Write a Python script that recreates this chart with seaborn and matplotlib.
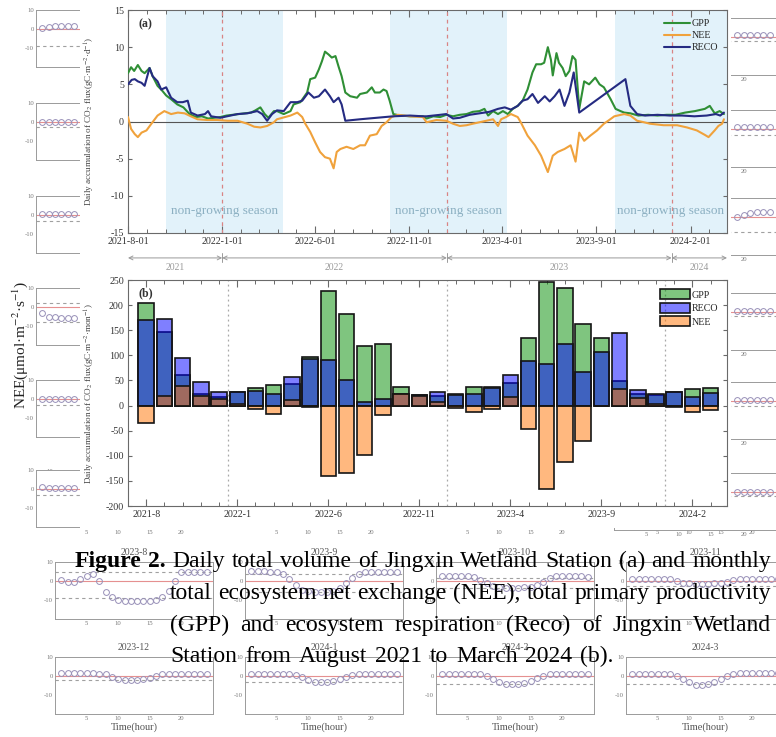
import numpy as np
import pandas as pd
import matplotlib
matplotlib.use("Agg")
import matplotlib.pyplot as plt
import matplotlib.dates as mdates
from matplotlib.patches import Rectangle, Patch
from matplotlib.ticker import FixedLocator
import seaborn as sns

# ---------------- data: panel (a) daily accumulation (day offset from start) ----------------
start_date = "2021-08-01"
end_date = "2024-03-31"

gpp_day = [0, 5, 10, 16, 22, 27, 35, 40, 48, 55, 62, 70, 80, 90, 100, 110, 120, 130, 140, 150,
           160, 170, 180, 190, 200, 207, 215, 222, 228, 237,
           242, 253, 264, 269, 280, 291, 296, 304, 310, 315, 320, 326, 331, 337, 342, 347, 353, 361,
           372, 377, 388, 396, 401, 409, 415, 420, 425, 431, 442, 458, 479,
           485, 496, 507, 517, 528, 539, 550, 560, 571, 579, 585, 593, 601, 609, 617, 625, 633, 641,
           649, 657, 663, 671, 676, 682, 687, 690, 696, 700, 706, 711, 717, 722, 727, 733, 741, 749,
           759, 766, 773, 784, 792, 800, 806, 816, 829, 845, 860, 875, 889, 905, 921, 937, 945, 953,
           961, 968]
gpp_val = [6.5, 7.3, 6.8, 7.6, 6.8, 6.5, 7.2, 6.1, 4.8, 4.2, 3.5, 3.0, 2.3, 1.9, 1.0, 0.6, 0.7, 0.4, 0.5, 0.6,
           0.8, 0.9, 1.0, 1.1, 1.2, 1.5, 1.9, 1.0, 0.5, 1.4,
           1.4, 1.0, 1.4, 2.3, 2.6, 3.9, 5.7, 5.9, 7.0, 8.1, 9.4, 9.0, 8.6, 8.8, 7.4, 6.1, 3.9, 3.4,
           3.2, 3.7, 3.9, 4.6, 3.9, 3.9, 4.3, 4.1, 2.8, 1.0, 0.8, 0.7, 0.7,
           0.4, 0.7, 0.6, 0.9, 0.7, 0.9, 1.0, 1.3, 1.4, 1.7, 0.8, 1.4, 1.0, 1.4, 1.0, 1.7, 2.1, 2.8,
           4.3, 6.6, 7.7, 7.7, 7.9, 10.0, 8.3, 6.2, 9.2, 7.9, 7.2, 6.1, 6.8, 8.8, 8.3, 1.7, 5.4, 5.0,
           5.9, 5.0, 4.6, 3.0, 1.7, 1.4, 1.2, 1.1, 0.8, 0.9, 0.8, 0.9, 0.9, 1.2, 1.4, 1.7, 2.1, 1.1,
           1.4, 1.0]

reco_day = [0, 6, 11, 16, 22, 27, 35, 40, 48, 54, 62, 70, 80, 89, 97, 102, 113, 125, 130, 135,
            150, 161, 178, 194, 210, 218, 226, 234,
            242, 253, 264, 275, 283, 293, 302, 310, 320, 328, 334, 342, 347, 353, 377, 404, 431, 458, 479,
            485, 507, 517, 528, 539, 555, 571, 587, 601, 612, 622, 633, 641, 649, 657, 666, 677, 685,
            693, 701, 709, 717, 724, 733, 808, 816, 827, 840, 860, 880, 900, 920, 940, 955, 962, 968]
reco_val = [5.0, 5.6, 5.7, 5.4, 5.2, 4.8, 7.2, 6.1, 5.4, 4.3, 4.6, 3.2, 2.6, 2.6, 2.8, 1.2, 0.8, 1.0, 1.4, 0.7,
            0.5, 0.7, 1.0, 1.1, 1.4, 1.0, 0.1, 1.0,
            1.5, 1.4, 2.6, 2.6, 2.8, 3.9, 3.2, 3.4, 4.3, 3.4, 2.6, 3.2, 2.3, 0.1, 0.3, 0.5, 0.7, 0.8, 0.7,
            0.7, 0.9, 1.0, 0.4, 0.5, 0.9, 1.1, 1.3, 1.7, 1.9, 1.6, 2.1, 2.8, 3.0, 3.7, 2.5, 3.4, 2.7,
            3.4, 4.3, 2.1, 3.9, 6.6, 1.2, 5.7, 2.1, 1.0, 0.8, 0.9, 0.8, 0.8, 0.7, 0.8, 1.0, 0.8, 1.2]

nee_day = [0, 5, 11, 16, 22, 30, 38, 48, 59, 70, 81, 92, 102, 113, 129, 145, 162, 178, 194, 205,
           215, 226, 237,
           242, 264, 275, 283, 288, 296, 304, 312, 320, 328, 334, 339, 345, 355, 366, 377, 385, 393,
           404, 412, 420, 428, 439, 458, 479,
           485, 501, 517, 528, 539, 550, 560, 571, 582, 593, 601, 606, 614, 622, 633, 638, 649, 661,
           671, 682, 690, 698, 709, 719, 727, 733, 741, 751, 762, 773, 780, 790, 806, 816, 827, 838,
           848, 870, 892, 908, 924, 937, 943, 953, 959, 965, 968]
nee_val = [0.6, -1.0, -1.7, -2.1, -1.5, -1.2, -0.3, 0.8, 1.4, 1.0, 1.2, 1.1, 0.7, 0.3, 0.2, 0.2, 0.1, 0.1, -0.3, -0.7,
           -0.8, -0.6, -0.1,
           0.3, 0.8, 1.2, 0.6, -0.3, -1.4, -2.8, -4.1, -4.8, -5.0, -6.3, -4.1, -3.7, -3.4, -3.7, -3.2, -3.2, -1.9,
           -1.7, -0.6, -0.1, 0.6, 0.9, 0.7, 0.6,
           -0.1, 0.2, 0.1, -0.3, -0.6, -0.5, -0.3, -0.1, 0.1, 0.3, -0.6, 0.3, 0.6, 1.0, 0.6, -0.1, -1.9, -3.2,
           -4.6, -6.8, -4.6, -4.1, -3.7, -3.2, -5.4, -1.5, -2.6, -1.9, -1.2, -0.3, 0.1, 0.7, 1.0, 0.8, 0.1, -0.1,
           -0.3, -0.5, -0.5, -0.8, -1.2, -1.8, -2.1, -1.2, -0.6, -0.3, 0.3]

season_start = ["2021-10-01", "2022-10-01", "2023-10-01"]
season_end = ["2022-04-10", "2023-04-09", "2024-03-31"]
year_marks = ["2022-01-01", "2023-01-01", "2024-01-01"]
a_tick_dates = ["2021-08-01", "2022-01-01", "2022-06-01", "2022-11-01", "2023-04-01", "2023-09-01", "2024-02-01"]
a_tick_labels = ["2021-8-01", "2022-1-01", "2022-6-01", "2022-11-01", "2023-4-01", "2023-9-01", "2024-2-01"]
year_names = ["2021", "2022", "2023", "2024"]

# ---------------- data: panel (b) monthly totals ----------------
months = ["2021-8", "2021-9", "2021-10", "2021-11", "2021-12",
          "2022-1", "2022-2", "2022-3", "2022-4", "2022-5", "2022-6", "2022-7", "2022-8", "2022-9",
          "2022-10", "2022-11", "2022-12",
          "2023-1", "2023-2", "2023-3", "2023-4", "2023-5", "2023-6", "2023-7", "2023-8", "2023-9",
          "2023-10", "2023-11", "2023-12",
          "2024-1", "2024-2", "2024-3"]
bar_gpp = [204, 147, 60, 24, 17, 26, 35, 40, 43, 97, 229, 182, 118, 122, 37, 21, 20,
           24, 36, 36, 44, 135, 247, 234, 163, 134, 49, 24, 22, 27, 32, 35]
bar_reco = [170, 172, 94, 47, 27, 27, 28, 24, 56, 93, 91, 50, 8, 14, 23, 22, 26,
            22, 24, 35, 60, 89, 83, 122, 67, 107, 144, 31, 23, 26, 18, 25]
bar_nee = [-34, 19, 38, 20, 14, 3, -7, -16, 12, -3, -140, -134, -99, -18, 23, 19, 7,
           -5, -12, -6, 17, -47, -166, -113, -70, 0, 32, 15, 4, -2, -12, -9]

# ---------------- data: background diurnal NEE panels ----------------
hours = list(range(1, 25))
bg_titles = ["2023-8", "2023-9", "2023-10", "2023-11", "2023-12", "2024-1", "2024-2", "2024-3"]
bg_vals = [
    [0.5, -0.5, -0.3, 1.0, 2.7, 3.6, 0.0, -6.0, -8.5, -9.8, -10.5, -10.5, -10.5, -10.5, -10.3, -9.8, -8.5, -5.5, 0.2, 4.5, 4.5, 4.5, 4.5, 4.5],
    [5.5, 5.5, 5.5, 5.0, 5.0, 3.5, 1.0, -2.0, -4.5, -5.5, -6.0, -6.0, -6.0, -5.5, -3.5, -1.0, 1.5, 3.5, 4.5, 5.0, 5.0, 5.0, 5.0, 5.0],
    [2.7, 2.7, 2.7, 2.7, 2.5, 2.0, 0.5, -1.0, -2.5, -3.0, -3.5, -3.5, -3.5, -3.2, -3.0, -2.0, -0.5, 1.5, 2.5, 2.7, 2.7, 2.7, 2.7, 2.0],
    [1.0, 1.0, 1.0, 1.0, 1.0, 1.0, 0.8, 0.0, -0.8, -1.3, -1.5, -1.5, -1.5, -1.3, -1.0, -0.5, 0.5, 1.0, 1.0, 1.0, 1.2, 1.2, 1.2, 1.2],
    [1.5, 1.5, 1.5, 1.5, 1.5, 1.5, 1.2, 0.8, -0.5, -1.5, -2.0, -2.0, -2.0, -1.5, -1.0, 0.0, 0.8, 1.0, 1.2, 1.2, 1.2, 1.2, 1.2, 1.2],
    [1.0, 1.0, 1.0, 1.0, 1.0, 1.0, 1.0, 0.5, -0.5, -2.0, -3.0, -3.2, -3.0, -2.5, -1.5, -0.5, 0.5, 1.0, 1.0, 1.0, 1.0, 1.0, 1.0, 1.0],
    [1.0, 1.0, 1.0, 1.0, 1.0, 1.0, 0.8, 0.0, -1.5, -3.0, -4.0, -4.2, -4.0, -3.5, -2.5, -1.0, 0.0, 1.0, 1.2, 1.2, 1.2, 1.2, 1.2, 1.2],
    [1.0, 1.0, 1.0, 1.0, 1.0, 1.0, 0.8, 0.0, -1.5, -3.0, -4.5, -4.5, -4.3, -3.0, -1.5, 0.0, 1.0, 1.5, 1.5, 1.5, 1.5, 1.5, 1.5, 1.5],
]
bg_dash = [[4.5, -9.0], [3.5, -6.0], [1.5, -3.5], [-2.5], [-2.0], [-3.0], [-4.0], [-4.0]]
left_hours = [1, 2, 3, 4, 5, 6]
left_vals = [[0.5, 1.0, 1.5, 1.5, 1.5, 1.5], [0.0, 0.0, 0.0, 0.0, 0.0, 0.0], [0.3, 0.3, 0.3, 0.3, 0.3, 0.3],
             [-3.0, -5.0, -5.5, -6.0, -6.0, -6.0], [0.0, 0.0, 0.0, 0.0, 0.0, 0.0], [1.0, 0.5, 0.5, 0.5, 0.5, 0.5]]
left_dash = [[-9.0], [-2.5], [-3.0], [2.0, -8.0], [-3.0], [-3.0]]
right_hours = [19, 20, 21, 22, 23, 24]
right_vals = [[1.0, 1.0, 1.0, 1.0, 1.0, 1.0], [1.0, 1.0, 1.0, 1.0, 1.0, 1.0], [0.0, 1.0, 2.0, 2.5, 2.5, 2.5],
              [0.5, 0.5, 0.5, 0.5, 0.5, 0.5], [0.5, 0.5, 0.5, 0.5, 0.5, 0.5], [0.0, 0.0, 0.0, 0.0, 0.0, 0.0]]
right_dash = [[-2.0], [-3.0], [-8.0], [-2.0], [-2.5], [-2.0]]

caption_lines = ["Figure 2. Daily total volume of Jingxin Wetland Station (a) and monthly",
                 "total ecosystem net exchange (NEE), total primary productivity",
                 "(GPP) and ecosystem respiration (Reco) of Jingxin Wetland",
                 "Station from August 2021 to March 2024 (b)."]

# ---------------- style ----------------
sns.set_theme(style="white")
plt.rcParams["font.family"] = ["Liberation Serif", "DejaVu Serif"]
plt.rcParams["mathtext.fontset"] = "stix"
plt.rcParams["axes.unicode_minus"] = False

W, H = 776, 737
fig = plt.figure(figsize=(W / 100, H / 100), dpi=100)
fig.patch.set_facecolor("white")


def pax(x0, y0, x1, y1, z=1):
    return fig.add_axes([x0 / W, 1 - y1 / H, (x1 - x0) / W, (y1 - y0) / H], zorder=z)


# ---------------- background small panels ----------------
def small_panel(x0, y0, w, hrs, vals, dashed, title=None, xlabel=None, frame=True, xlabels=True):
    ax = pax(x0, y0, x0 + w, y0 + 57, z=0)
    ax.set_facecolor("white")
    ax.set_xlim(0, 25)
    ax.set_ylim(-20, 10)
    if hrs is not None:
        ax.axhline(0, color="#e59090", lw=0.8)
        for d in dashed:
            ax.axhline(d, color="#a0a0a0", lw=0.8, ls=(0, (3, 3)))
        ax.plot(hrs, vals, "o", mfc="none", mec="#9890b8", ms=4.2, mew=0.7)
    ax.set_xticks([5, 10, 15, 20])
    ax.set_yticks([-10, 0, 10])
    ax.tick_params(labelsize=4.8, colors="#777777", direction="in", length=2 if frame else 0, pad=1.5)
    if not xlabels:
        ax.tick_params(axis="x", labelbottom=False)
    for sp in ax.spines.values():
        sp.set_color("#9a9a9a")
        sp.set_linewidth(0.7)
        sp.set_visible(frame)
    if title:
        ax.set_title(title, fontsize=7, color="#555555", pad=5)
    if xlabel:
        ax.set_xlabel(xlabel, fontsize=7.5, color="#555555", labelpad=1)
    return ax


cols_x = [55, 245, 436, 626]
for i in range(4):
    small_panel(cols_x[i], 471, 158, None, None, [], frame=False)
    small_panel(cols_x[i], 562, 158, hours, bg_vals[i], bg_dash[i], title=bg_titles[i])
    small_panel(cols_x[i], 657, 158, hours, bg_vals[4 + i], bg_dash[4 + i], title=bg_titles[4 + i],
                xlabel="Time(hour)")
left_tops = [10, 103, 196, 288, 380, 470]
right_tops = [18, 110, 198, 293, 382, 473]
for i in range(6):
    small_panel(36, left_tops[i], 158, left_hours, left_vals[i], left_dash[i], xlabels=False)
    small_panel(614, right_tops[i], 162, right_hours, right_vals[i], right_dash[i])

fig.text(20 / W, 1 - 345 / H, "NEE(μmol·m$^{-2}$·s$^{-1}$)", rotation=90, fontsize=11,
         ha="center", va="center", color="#222222", zorder=0.5)

# white sheet of the main figure
fig.add_artist(Rectangle((80 / W, 1 - 528 / H), (731 - 80) / W, 528 / H, transform=fig.transFigure,
                         facecolor="white", edgecolor="none", zorder=1))

# ---------------- panel (a) ----------------
axa = pax(128, 10, 727, 233, z=2)
t0 = pd.Timestamp(start_date)
t1 = pd.Timestamp(end_date)
for s, e in zip(season_start, season_end):
    axa.axvspan(pd.Timestamp(s), pd.Timestamp(e), color="#e2f2fa", lw=0, zorder=0)
for ym in year_marks:
    axa.axvline(pd.Timestamp(ym), color="#d98484", lw=0.9, ls=(0, (3, 3)), zorder=1)
axa.axhline(0, color="#555555", lw=0.8, zorder=1.5)

series = [(gpp_day, gpp_val, "#2f8f35", "GPP"),
          (nee_day, nee_val, "#f0a23c", "NEE"),
          (reco_day, reco_val, "#252b82", "RECO")]
for days, vals, col, lab in series:
    d = pd.DataFrame({"date": t0 + pd.to_timedelta(days, unit="D"), "v": vals})
    sns.lineplot(data=d, x="date", y="v", ax=axa, color=col, lw=1.5, label=lab,
                 estimator=None, sort=False, zorder=3)

for s, e in zip(season_start, season_end):
    mid = pd.Timestamp(s) + (pd.Timestamp(e) - pd.Timestamp(s)) / 2
    axa.text(mid, -12, "non-growing season", ha="center", va="center", color="#8cb0c2", fontsize=9.5)

axa.set_xlim(t0, t1)
axa.set_ylim(-15, 15)
axa.set_yticks(range(-15, 16, 5))
axa.set_xticks(pd.to_datetime(a_tick_dates))
axa.set_xticklabels(a_tick_labels)
axa.xaxis.set_minor_locator(mdates.MonthLocator())
axa.set_xlabel("")
axa.set_ylabel("Daily accumulation of CO$_2$ flux(gC·m$^{-2}$·d$^{-1}$)", fontsize=6.6, color="#444444")
axa.yaxis.set_label_coords(-0.052, 0.5)
axa.text(0.017, 0.935, "(a)", transform=axa.transAxes, fontsize=8.5, fontweight="bold",
         color="#333333", va="center")
axa.legend(loc="upper right", frameon=False, fontsize=7.2, handlelength=2.6, handletextpad=0.2,
           labelspacing=0.3)

# ---------------- panel (b) ----------------
axb = pax(128, 280, 727, 506, z=2)
dfb = pd.DataFrame({"month": months, "GPP": bar_gpp, "RECO": bar_reco, "NEE": bar_nee})
bar_cols = {"GPP": (0.0, 0.55, 0.0, 0.5), "RECO": (0.0, 0.0, 1.0, 0.5), "NEE": (1.0, 0.45, 0.0, 0.5)}
for key in ["GPP", "RECO", "NEE"]:
    n0 = len(axb.patches)
    sns.barplot(data=dfb, x="month", y=key, order=months, ax=axb, color="gray", width=0.85,
                saturation=1, errorbar=None)
    for p in axb.patches[n0:]:
        p.set_facecolor(bar_cols[key])
        p.set_edgecolor("#151515")
        p.set_linewidth(1.2)
for i, m in enumerate(months):
    if m.endswith("-1"):
        axb.axvline(i - 0.5, color="#a8a8a8", lw=0.9, ls=(0, (1.5, 2.5)), zorder=0.5)
axb.set_xlim(-1, 31.9)
axb.set_ylim(-200, 250)
axb.set_yticks(range(-200, 251, 50))
axb.set_xticks(range(0, len(months), 5))
axb.set_xticklabels(months[::5])
axb.xaxis.set_minor_locator(FixedLocator(range(len(months))))
axb.set_xlabel("")
axb.set_ylabel("Daily accumulation of CO$_2$ flux(gC·m$^{-2}$·mon$^{-1}$)", fontsize=6.6, color="#444444")
axb.yaxis.set_label_coords(-0.052, 0.5)
axb.text(0.017, 0.942, "(b)", transform=axb.transAxes, fontsize=8.5, fontweight="bold",
         color="#333333", va="center")
handles = [Patch(facecolor=bar_cols[k], edgecolor="#151515", lw=1.2) for k in ["GPP", "RECO", "NEE"]]
axb.legend(handles, ["GPP", "RECO", "NEE"], loc="upper right", frameon=False, fontsize=7.2,
           handlelength=3.0, handleheight=1.2, handletextpad=0.2, labelspacing=0.3)

for ax in (axa, axb):
    for sp in ax.spines.values():
        sp.set_color("#6a6a6a")
        sp.set_linewidth(0.8)
    ax.tick_params(which="both", direction="in", top=True, right=True, bottom=True, left=True,
                   colors="#6a6a6a", labelcolor="#333333", labelsize=7.2, pad=3)
    ax.tick_params(which="major", length=5, width=0.8)
    ax.tick_params(which="minor", length=3, width=0.7)
    ax.tick_params(axis="y", which="major", length=3)
    ax.grid(False)

# ---------------- year arrows row ----------------
axy = pax(128, 250, 727, 272, z=2)
axy.set_axis_off()
axy.set_xlim(mdates.date2num(t0), mdates.date2num(t1))
axy.set_ylim(0, 1)
bounds = [t0] + [pd.Timestamp(y) for y in year_marks] + [t1]
for k in range(len(year_names)):
    b0 = mdates.date2num(bounds[k])
    b1 = mdates.date2num(bounds[k + 1])
    axy.annotate("", xy=(b1, 0.64), xytext=(b0, 0.64),
                 arrowprops=dict(arrowstyle="<->", color="#9a9a9a", lw=0.7, shrinkA=0, shrinkB=0,
                                 mutation_scale=7))
    axy.text((b0 + b1) / 2, 0.22, year_names[k], ha="center", va="center", fontsize=7, color="#9a9a9a")
for b in bounds[1:-1]:
    bn = mdates.date2num(b)
    axy.plot([bn, bn], [0.45, 0.85], color="#9a9a9a", lw=0.7)

# ---------------- justified caption ----------------
renderer = fig.canvas.get_renderer()
cap_x0 = [75, 170, 170, 170]
cap_x1 = 771
cap_base = [567, 599, 631, 662]
cap_fs = 17.5
for attempt in range(6):
    gaps = []
    placed = []
    for i, line in enumerate(caption_lines):
        words = line.split(" ")
        objs = []
        for j, w in enumerate(words):
            bold = (i == 0 and j < 2)
            objs.append(fig.text(0, 1 - cap_base[i] / H, w, fontsize=cap_fs,
                                 fontweight="bold" if bold else "normal", ha="left", va="baseline",
                                 color="black", zorder=4))
        widths = [o.get_window_extent(renderer).width for o in objs]
        placed.append((objs, widths))
        if i < len(caption_lines) - 1:
            gaps.append((cap_x1 - cap_x0[i] - sum(widths)) / (len(words) - 1))
    if min(gaps) >= 5 or attempt == 5:
        break
    for objs, _ in placed:
        for o in objs:
            o.remove()
    cap_fs -= 0.5
for i, (objs, widths) in enumerate(placed):
    gap = gaps[i] if i < len(gaps) else float(np.mean(gaps))
    x = cap_x0[i]
    for o, wd in zip(objs, widths):
        o.set_x(x / W)
        x += wd + gap

fig.savefig("out.png", dpi=100)
